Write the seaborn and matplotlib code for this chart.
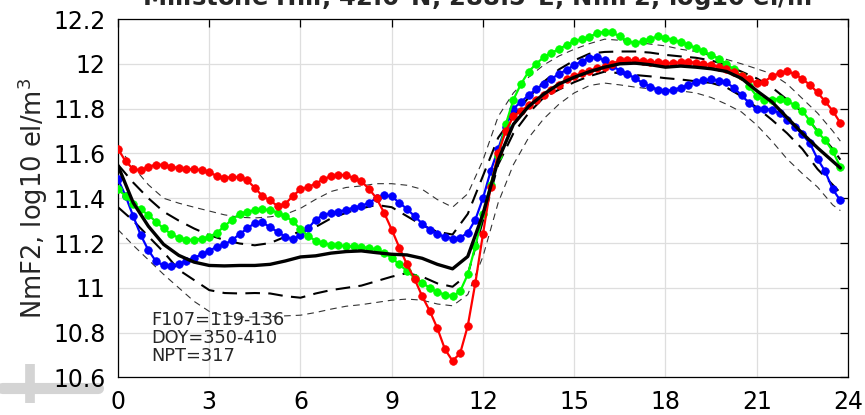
import matplotlib
matplotlib.use("Agg")
import matplotlib.pyplot as plt
import numpy as np
import pandas as pd
import seaborn as sns
from matplotlib.lines import Line2D

# ---------------- data ----------------
HOURS_Q = [i * 0.25 for i in range(96)]          # observation times (UT hours)
HOURS_H = [i * 0.5 for i in range(48)] + [23.75]  # model/statistics times

RED = [11.62, 11.565, 11.53, 11.525,
       11.54, 11.55, 11.55, 11.54,
       11.535, 11.53, 11.53, 11.525,
       11.515, 11.50, 11.49, 11.495,
       11.495, 11.48, 11.446, 11.41,
       11.39, 11.365, 11.375, 11.41,
       11.44, 11.45, 11.465, 11.485,
       11.498, 11.505, 11.503, 11.49,
       11.476, 11.442, 11.40, 11.335,
       11.26, 11.18, 11.105, 11.04,
       10.963, 10.897, 10.82, 10.726,
       10.674, 10.708, 10.83, 11.023,
       11.24, 11.45, 11.60, 11.70,
       11.765, 11.79, 11.815, 11.84,
       11.86, 11.885, 11.905, 11.93,
       11.945, 11.958, 11.97, 11.98,
       11.988, 12.0, 12.015, 12.018,
       12.015, 12.012, 12.01, 12.006,
       12.003, 12.005, 12.006, 12.008,
       12.005, 12.0, 11.995, 11.988,
       11.978, 11.962, 11.945, 11.93,
       11.914, 11.92, 11.945, 11.958,
       11.966, 11.955, 11.932, 11.906,
       11.872, 11.832, 11.79, 11.736]

BLUE = [11.486, 11.41, 11.32, 11.235,
        11.168, 11.118, 11.10, 11.097,
        11.107, 11.12, 11.134, 11.149,
        11.166, 11.183, 11.194, 11.213,
        11.24, 11.265, 11.29, 11.293,
        11.27, 11.25, 11.228, 11.216,
        11.235, 11.265, 11.305, 11.325,
        11.333, 11.34, 11.348, 11.358,
        11.365, 11.38, 11.40, 11.414,
        11.408, 11.38, 11.352, 11.32,
        11.287, 11.26, 11.24, 11.228,
        11.22, 11.224, 11.246, 11.305,
        11.40, 11.52, 11.62, 11.72,
        11.80, 11.83, 11.86, 11.888,
        11.91, 11.933, 11.955, 11.973,
        11.995, 12.01, 12.028, 12.03,
        12.015, 11.99, 11.97, 11.955,
        11.935, 11.915, 11.898, 11.885,
        11.877, 11.885, 11.893, 11.905,
        11.918, 11.928, 11.93, 11.925,
        11.918, 11.892, 11.86, 11.825,
        11.797, 11.798, 11.795, 11.78,
        11.75, 11.72, 11.685, 11.645,
        11.575, 11.52, 11.44, 11.39]

GREEN = [11.44, 11.41, 11.375, 11.35,
         11.325, 11.295, 11.265, 11.24,
         11.223, 11.215, 11.215, 11.22,
         11.228, 11.246, 11.275, 11.305,
         11.33, 11.34, 11.347, 11.35,
         11.347, 11.336, 11.32, 11.297,
         11.262, 11.232, 11.21, 11.199,
         11.193, 11.19, 11.186, 11.185,
         11.183, 11.178, 11.172, 11.157,
         11.134, 11.105, 11.075, 11.045,
         11.023, 11.0, 10.98, 10.97,
         10.962, 10.985, 11.06, 11.186,
         11.33, 11.46, 11.59, 11.73,
         11.84, 11.91, 11.965, 12.0,
         12.03, 12.05, 12.065, 12.085,
         12.10, 12.11, 12.12, 12.137,
         12.143, 12.14, 12.122, 12.10,
         12.093, 12.10, 12.112, 12.122,
         12.115, 12.107, 12.097, 12.085,
         12.07, 12.055, 12.04, 12.022,
         12.0, 11.975, 11.945, 11.90,
         11.855, 11.84, 11.84, 11.845,
         11.832, 11.817, 11.79, 11.745,
         11.695, 11.66, 11.61, 11.54]

MEDIAN = [11.545, 11.38, 11.275, 11.194, 11.145, 11.115, 11.10, 11.098,
          11.10, 11.10, 11.105, 11.12, 11.138, 11.143, 11.155, 11.162,
          11.165, 11.157, 11.15, 11.147, 11.132, 11.105, 11.085, 11.14,
          11.33, 11.57, 11.73, 11.81, 11.865, 11.91, 11.94, 11.965,
          11.985, 12.0, 12.003, 11.996, 11.985, 11.99, 11.985, 11.978,
          11.966, 11.935, 11.88, 11.83, 11.76, 11.69, 11.625, 11.565,
          11.535]

UPPER_Q = [11.55, 11.47, 11.40, 11.34, 11.30, 11.265, 11.235, 11.214,
           11.198, 11.19, 11.20, 11.228, 11.252, 11.272, 11.31, 11.335,
           11.355, 11.37, 11.36, 11.32, 11.28, 11.25, 11.238, 11.33,
           11.50, 11.67, 11.765, 11.85, 11.92, 11.975, 12.015, 12.045,
           12.053, 12.055, 12.055, 12.05, 12.04, 12.033, 12.027, 12.015,
           11.995, 11.965, 11.935, 11.895, 11.84, 11.785, 11.70, 11.62,
           11.572]

LOWER_Q = [11.36, 11.30, 11.23, 11.16, 11.08, 11.035, 10.99, 10.977,
           10.975, 10.977, 10.975, 10.963, 10.956, 10.975, 10.99, 11.0,
           11.01, 11.03, 11.05, 11.066, 11.05, 11.02, 11.005, 11.06,
           11.30, 11.55, 11.69, 11.78, 11.85, 11.885, 11.918, 11.945,
           11.965, 11.958, 11.95, 11.944, 11.936, 11.93, 11.922, 11.915,
           11.895, 11.855, 11.805, 11.75, 11.69, 11.62, 11.53, 11.46,
           11.424]

UPPER_D = [11.63, 11.54, 11.46, 11.40, 11.378, 11.36, 11.343, 11.326,
           11.315, 11.312, 11.317, 11.328, 11.355, 11.395, 11.43, 11.448,
           11.455, 11.465, 11.465, 11.458, 11.44, 11.394, 11.36, 11.42,
           11.57, 11.765, 11.87, 11.94, 11.995, 12.035, 12.065, 12.09,
           12.11, 12.105, 12.098, 12.088, 12.08, 12.065, 12.055, 12.035,
           12.02, 12.0, 11.978, 11.955, 11.91, 11.845, 11.78, 11.70,
           11.655]

LOWER_D = [11.26, 11.19, 11.125, 11.06, 11.0, 10.94, 10.895, 10.875,
           10.87, 10.87, 10.872, 10.875, 10.878, 10.89, 10.905, 10.918,
           10.925, 10.935, 10.945, 10.95, 10.945, 10.928, 10.92, 10.97,
           11.14, 11.38, 11.55, 11.67, 11.755, 11.82, 11.87, 11.903,
           11.914, 11.906, 11.896, 11.888, 11.884, 11.879, 11.87, 11.85,
           11.82, 11.785, 11.727, 11.655, 11.575, 11.51, 11.45, 11.37,
           11.345]

X_TICKS = [0, 3, 6, 9, 12, 15, 18, 21, 24]
Y_TICKS = [10.6, 10.8, 11.0, 11.2, 11.4, 11.6, 11.8, 12.0, 12.2]
Y_TICK_LABELS = ["10.6", "10.8", "11", "11.2", "11.4", "11.6", "11.8", "12", "12.2"]

TITLE = "Millstone Hill, 42.6\u00b0N, 288.5\u00b0E, NmF2, log10 el/m$^\\mathbf{3}$"
YLABEL = "NmF2, log10 el/m$^3$"
NOTE = "F107=119-136\nDOY=350-410\nNPT=317"

# ---------------- plotting ----------------
sns.set_style("white")
plt.rcParams["font.family"] = ["DejaVu Sans"]
plt.rcParams["mathtext.fontset"] = "dejavusans"

fig = plt.figure(figsize=(8.65, 4.15), dpi=100)
ax = fig.add_axes([0.1364, 0.0904, 0.8439, 0.8638])


def stat_line(vals, lw, dashes, color, z):
    df = pd.DataFrame({"h": HOURS_H, "v": vals})
    sns.lineplot(data=df, x="h", y="v", ax=ax, color=color, lw=lw,
                 errorbar=None, zorder=z)
    if dashes is not None:
        ax.lines[-1].set_dashes(dashes)


stat_line(UPPER_D, 0.8, (6, 4.5), "#333333", 2)
stat_line(LOWER_D, 0.8, (6, 4.5), "#333333", 2)
stat_line(UPPER_Q, 1.5, (7, 4), "black", 3)
stat_line(LOWER_Q, 1.5, (7, 4), "black", 3)

for vals, col, z in [(BLUE, "#0000ff", 4), (GREEN, "#00ff00", 5), (RED, "#ff0000", 6)]:
    df = pd.DataFrame({"h": HOURS_Q, "v": vals})
    sns.lineplot(data=df, x="h", y="v", ax=ax, color=col, lw=1.6,
                 marker="o", markersize=5.5, markeredgecolor=col,
                 markeredgewidth=0.5, errorbar=None, zorder=z)

stat_line(MEDIAN, 2.4, None, "black", 7)

ax.set_xlim(0, 24)
ax.set_ylim(10.6, 12.2)
ax.set_xticks(X_TICKS)
ax.set_xticklabels([str(t) for t in X_TICKS])
ax.set_yticks(Y_TICKS)
ax.set_yticklabels(Y_TICK_LABELS)
ax.set_xlabel("")
ax.set_ylabel(YLABEL, fontsize=18.5, labelpad=2)
ax.grid(True, color="#dedede", lw=0.9)
ax.set_axisbelow(True)
for s in ax.spines.values():
    s.set_visible(True)
    s.set_color("black")
    s.set_linewidth(0.9)
ax.tick_params(axis="both", direction="in", length=5.5, width=0.9,
               top=True, right=True, labelsize=17, colors="black")
ax.tick_params(axis="x", pad=9)
ax.tick_params(axis="y", pad=9)

ax.text(1.1, 10.895, NOTE, fontsize=12.8, va="top", ha="left", linespacing=0.98)

ax.set_title(TITLE, fontsize=17.5, fontweight="bold", pad=8.6)

# light grey "+" decoration in the lower-left corner
fig.add_artist(Line2D([2 / 865, 98 / 865], [1 - 388 / 415, 1 - 388 / 415],
                      transform=fig.transFigure, color="#d4d4d4", lw=8,
                      solid_capstyle="round", zorder=0))
fig.add_artist(Line2D([30 / 865, 30 / 865], [1 - 364 / 415, 1 - 403 / 415],
                      transform=fig.transFigure, color="#d4d4d4", lw=7,
                      solid_capstyle="butt", zorder=0))

fig.savefig("out.png", dpi=100)
